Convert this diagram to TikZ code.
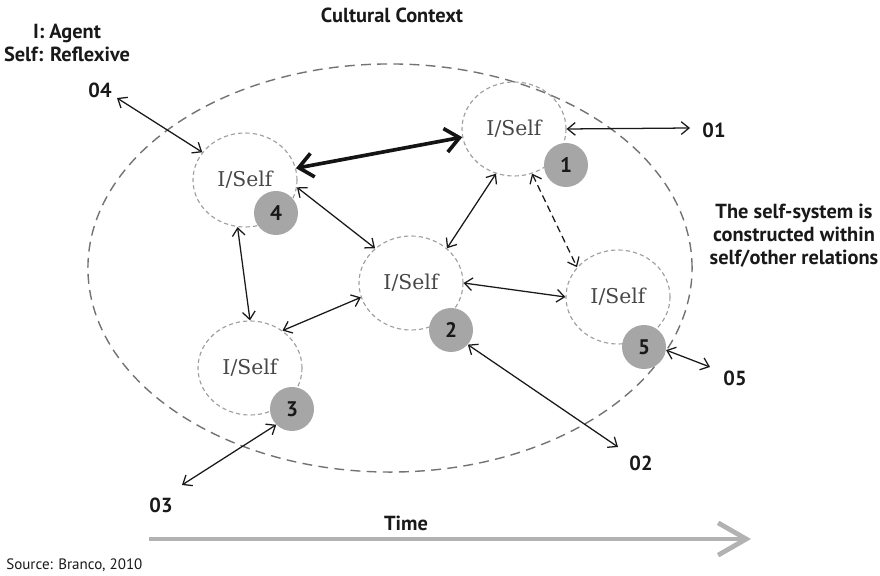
\documentclass[tikz,border=0pt]{standalone}
\usepackage{fontspec}
\newfontfamily\lab{PT Sans}
\newfontfamily\serifself{DejaVu Serif}
\usetikzlibrary{arrows.meta, shapes.geometric}
\begin{document}
\begin{tikzpicture}[x=0.025cm, y=-0.025cm,
  lbl/.style={font=\lab\bfseries\fontsize{14.5}{16.4}\selectfont, text=black!90, align=center, inner sep=0pt},
  selfc/.style={ellipse, draw=black!38, dash pattern=on 3pt off 2.2pt, line width=0.8pt,
    minimum width=2.6cm, minimum height=2.35cm, inner sep=0pt,
    font=\serifself\fontsize{14.5}{17}\selectfont, text=black!72},
  numc/.style={circle, fill=black!35, minimum size=1.1cm, inner sep=0pt,
    font=\lab\bfseries\fontsize{15}{16}\selectfont, text=black!90},
  ctx/.style={ellipse, draw=black!55, dash pattern=on 7pt off 4.5pt, line width=1pt,
    minimum width=15.1cm, minimum height=10.2cm, inner sep=0pt},
  arr/.style={{Straight Barb[length=5.5pt,width=9pt]}-{Straight Barb[length=5.5pt,width=9pt]},
    line width=0.9pt, draw=black!90},
  thick arr/.style={{Straight Barb[length=10pt,width=17pt]}-{Straight Barb[length=10pt,width=17pt]},
    line width=2.6pt, draw=black!92},
  timearr/.style={-{Straight Barb[length=20pt,width=23pt]}, line width=3.4pt, draw=black!30}
]
\useasboundingbox (0,0) rectangle (880,576);

% context
\node[ctx] (context) at (390,268) {};

% I/Self circles
\node[selfc] (c1) at (514,129) {I/Self};
\node[selfc] (c4) at (245,180) {I/Self};
\node[selfc] (c2) at (411,283) {I/Self};
\node[selfc] (c5) at (618,297) {I/Self};
\node[selfc] (c3) at (250,368) {I/Self};

% numbered discs
\node[numc] (n1) at (566,165) {1};
\node[numc] (n4) at (276,213) {4};
\node[numc] (n2) at (451,330) {2};
\node[numc] (n5) at (644,347) {5};
\node[numc] (n3) at (292,409) {3};

% labels
\node[lbl] (title) at (392,15) {Cultural Context};
\node[lbl] (legend) at (67,43) {I: Agent\\Self: Reflexive};
\node[lbl] (l04) at (100,90) {04};
\node[lbl] (l01) at (714,130) {01};
\node[lbl] (l02) at (641,463) {02};
\node[lbl] (l05) at (735,378) {05};
\node[lbl] (l03) at (161,505) {03};
\node[lbl] (note) at (794,236) {The self-system is\\constructed within\\self/other relations};
\node[lbl] (time) at (406,523) {Time};
\node[anchor=west, inner sep=0pt, font=\lab\fontsize{10.7}{12}\selectfont, text=black!90] (src) at (6,565) {Source: Branco, 2010};

% free ends
\coordinate (e04) at (117,98);
\coordinate (e01) at (690,128);
\coordinate (e02) at (618,447);
\coordinate (e05) at (710,367);
\coordinate (e03) at (182,485);
\coordinate (t0) at (149,539);
\coordinate (t1) at (751,539);

% connectors
\draw[thick arr] (c4.13) -- (c1.189);
\draw[arr] (e04) -- (c4.147);
\draw[arr] (c1.0) -- (e01);
\draw[arr] (c1.248) -- (c2.44);
\draw[arr, dash pattern=on 5pt off 3pt] (c1.292) -- (c5.144);
\draw[arr] (c4.352) -- (c2.136.5);
\draw[arr] (c4.261) -- (c3.90);
\draw[arr] (c2.196.8) -- (c3.49);
\draw[arr] (c2.0) -- (c5.180);
\draw[arr] (n2.319) -- (e02);
\draw[arr] (n5.-8) -- (e05);
\draw[arr] (n3.225) -- (e03);

% time
\draw[timearr] (t0) -- (t1);
\end{tikzpicture}
\end{document}
